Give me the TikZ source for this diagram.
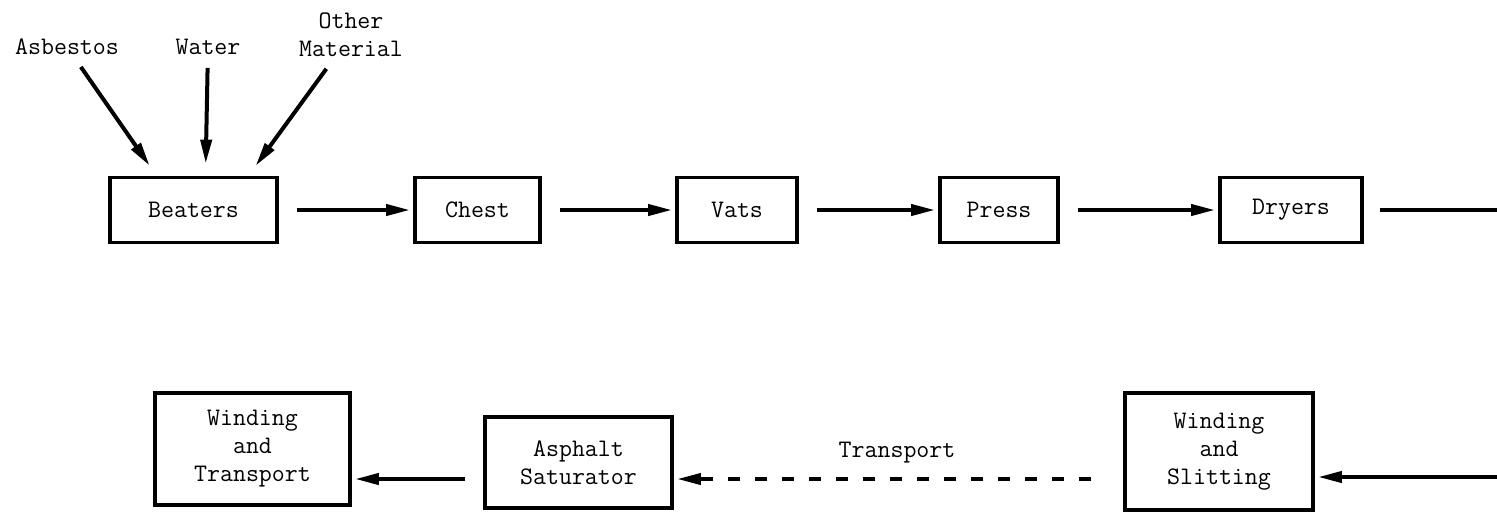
\documentclass[tikz,border=0pt]{standalone}
\usetikzlibrary{arrows.meta, calc, positioning}

\begin{document}
\begin{tikzpicture}[x=0.5pt, y=-0.5pt,
  font=\ttfamily\fontsize{12.6}{14}\selectfont,
  stage/.style={draw, line width=1.9pt, align=center, inner sep=0pt},
  flow/.style={line width=2pt, -{Triangle[length=12pt, width=5.5pt]}, shorten <=9pt, shorten >=1.5pt}]
\useasboundingbox (0,0) rectangle (1497,511);
% feeds into the beaters
\node (asbestos) at (67,47) {Asbestos};
\node (water) at (208,47) {Water};
\node[align=center] (other) at (351,35) {Other\\Material};
% top line
\foreach \n/\x/\w/\t in {beaters/193.5/83.5/Beaters, chest/477.5/62.5/Chest, vats/737/60/Vats, press/999/59/Press, dryers/1291/71/Dryers}
  \node[stage, minimum width=\w pt, minimum height=32.5pt] (\n) at (\x,210) {\t};
\foreach \a/\b in {beaters/chest, chest/vats, vats/press, press/dryers}
  \draw[flow] (\a) -- (\b);
\draw[flow, shorten <=3pt, shorten >=6pt] (asbestos) -- ($(beaters.north)+(-37,0)$);
\draw[flow, shorten <=3pt, shorten >=6pt] (water) -- ($(beaters.north)+(12,0)$);
\draw[flow, shorten <=3pt, shorten >=6pt] (other) -- ($(beaters.north)+(55,0)$);
\coordinate (outtop) at (1497,210);
\draw[line width=2pt, shorten <=8pt] (dryers) -- (outtop);
% bottom line
\node[stage, minimum width=97.5pt, minimum height=56pt] (wtrans) at (252.5,449) {Winding\\and\\Transport};
\node[stage, minimum width=93.5pt, minimum height=45.5pt] (asphalt) at (578.5,462.5) {Asphalt\\Saturator};
\node[stage, minimum width=94pt, minimum height=58.5pt] (wslit) at (1219,451.5) {Winding\\and\\Slitting};
\coordinate (lowrow) at (0,479);
\coordinate (inbot) at (1497,477);
\node (transp) at (897,453) {Transport};
\draw[flow, shorten <=0pt] (inbot) -- (wslit.east |- inbot);
\draw[flow, dash pattern=on 6pt off 7.5pt, shorten <=16pt] (wslit.west |- lowrow) -- (asphalt.east |- lowrow);
\draw[flow] (asphalt.west |- lowrow) -- (wtrans.east |- lowrow);
\end{tikzpicture}
\end{document}
